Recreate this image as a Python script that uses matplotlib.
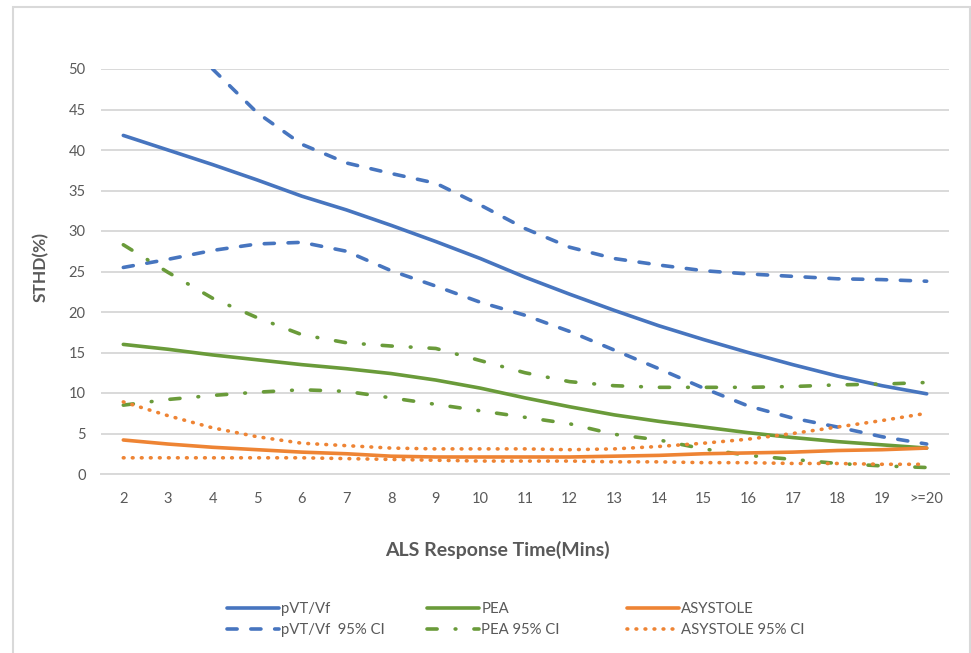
import numpy as np
import matplotlib
matplotlib.use("Agg")
import matplotlib.pyplot as plt
from matplotlib.patches import Rectangle

plt.rcParams['font.family'] = ['Lato', 'DejaVu Sans']

categories = ['2', '3', '4', '5', '6', '7', '8', '9', '10', '11', '12', '13',
              '14', '15', '16', '17', '18', '19', '>=20']

pvt = [41.8, 40.0, 38.2, 36.3, 34.3, 32.6, 30.7, 28.7, 26.6, 24.3, 22.2, 20.2,
       18.3, 16.6, 15.0, 13.5, 12.1, 10.9, 9.9]
pvt_upper = [np.nan, np.nan, 50.0, 44.6, 40.7, 38.4, 37.1, 35.9, 33.2, 30.3, 28.0,
             26.6, 25.8, 25.1, 24.7, 24.4, 24.1, 24.0, 23.8]
pvt_lower = [25.5, 26.5, 27.6, 28.4, 28.6, 27.5, 25.1, 23.2, 21.2, 19.6, 17.6,
             15.3, 13.0, 10.6, 8.4, 6.9, 5.8, 4.6, 3.7]

pea = [16.0, 15.4, 14.7, 14.1, 13.5, 13.0, 12.4, 11.6, 10.6, 9.4, 8.3, 7.3,
       6.5, 5.8, 5.1, 4.5, 4.0, 3.6, 3.2]
pea_upper = [28.3, 24.9, 21.7, 19.3, 17.2, 16.2, 15.8, 15.5, 14.0, 12.5, 11.4,
             10.9, 10.7, 10.7, 10.7, 10.8, 11.0, 11.1, 11.3]
pea_lower = [8.5, 9.2, 9.7, 10.1, 10.4, 10.2, 9.4, 8.6, 7.8, 7.0, 6.2, 4.9,
             4.2, 3.1, 2.3, 1.8, 1.3, 1.0, 0.8]

asy = [4.2, 3.7, 3.3, 3.0, 2.7, 2.5, 2.2, 2.1, 2.1, 2.1, 2.1, 2.2, 2.3, 2.5,
       2.6, 2.7, 2.9, 3.0, 3.2]
asy_upper = [8.9, 7.2, 5.7, 4.6, 3.8, 3.5, 3.2, 3.1, 3.1, 3.1, 3.0, 3.1, 3.4,
             3.8, 4.3, 5.0, 5.8, 6.6, 7.5]
asy_lower = [2.0, 2.0, 2.0, 2.0, 2.0, 1.9, 1.8, 1.7, 1.6, 1.6, 1.6, 1.5, 1.5,
             1.4, 1.4, 1.3, 1.3, 1.2, 1.2]

yticks = [0, 5, 10, 15, 20, 25, 30, 35, 40, 45, 50]

BLUE = '#4775BF'
GREEN = '#6A9B3A'
ORANGE = '#EE8434'
GRID = '#D9D9D9'
TXT = '#595959'

fig = plt.figure(figsize=(9.71, 6.53), dpi=100)
fig.patches.append(Rectangle((13 / 971, -0.1), (970 - 13) / 971, 1.1 - 7 / 653,
                             transform=fig.transFigure, fill=False,
                             edgecolor='#D9D9D9', linewidth=1.5))

ax = fig.add_axes([101 / 971, (653 - 474) / 653, (949 - 101) / 971, (474 - 69) / 653])
x = np.arange(len(categories))
lw = 2.6
DASH = dict(dashes=(2.8, 3.8), dash_capstyle='round')
DASHDOT = dict(dashes=(2.8, 5.0, 0.2, 5.0), dash_capstyle='round')
DOT = dict(dashes=(0.2, 2.3), dash_capstyle='round')

l1, = ax.plot(x, pvt, color=BLUE, lw=lw, label='pVT/Vf', solid_capstyle='round')
l2, = ax.plot(x, pvt_upper, color=BLUE, lw=lw, label='pVT/Vf  95% CI', **DASH)
ax.plot(x, pvt_lower, color=BLUE, lw=lw, **DASH)

l3, = ax.plot(x, pea, color=GREEN, lw=lw, label='PEA', solid_capstyle='round')
l4, = ax.plot(x, pea_upper, color=GREEN, lw=lw, label='PEA 95% CI', **DASHDOT)
ax.plot(x, pea_lower, color=GREEN, lw=lw, **DASHDOT)

l5, = ax.plot(x, asy, color=ORANGE, lw=lw, label='ASYSTOLE', solid_capstyle='round')
l6, = ax.plot(x, asy_upper, color=ORANGE, lw=lw, label='ASYSTOLE 95% CI', **DOT)
ax.plot(x, asy_lower, color=ORANGE, lw=lw, **DOT)

ax.set_xlim(-0.5, len(categories) - 0.5)
ax.set_ylim(0, 50)
ax.set_yticks(yticks)
ax.set_xticks(x)
ax.set_xticklabels(categories)
ax.grid(axis='y', color=GRID, lw=1.4)
ax.set_axisbelow(True)
for s in ['top', 'right', 'left']:
    ax.spines[s].set_visible(False)
ax.spines['bottom'].set_color(GRID)
ax.spines['bottom'].set_linewidth(1.4)
ax.tick_params(axis='both', length=0, colors=TXT, labelsize=10.5)
ax.tick_params(axis='y', pad=11)
ax.tick_params(axis='x', pad=13)

ax.set_ylabel('STHD(%)', fontsize=12.5, fontweight='bold', color=TXT)
ax.yaxis.set_label_coords(-0.061, 0.51)
ax.set_xlabel('ALS Response Time(Mins)', fontsize=14, fontweight='bold', color=TXT)
ax.xaxis.set_label_coords(0.468, -0.165)

# legend: three equal-width columns, as in the original
groups = [([l1, l2], ['pVT/Vf', 'pVT/Vf  95% CI'], 227),
          ([l3, l4], ['PEA', 'PEA 95% CI'], 427),
          ([l5, l6], ['ASYSTOLE', 'ASYSTOLE 95% CI'], 627)]
for handles, labels, xpx in groups:
    lg = fig.legend(handles, labels, ncol=1, loc='center left',
                    bbox_to_anchor=(xpx / 971, 1 - 619.5 / 653),
                    frameon=False, fontsize=10.7, handlelength=3.5, handletextpad=0.15,
                    labelspacing=0.45, borderpad=0, borderaxespad=0, labelcolor=TXT)

fig.savefig('out.png', dpi=100)
